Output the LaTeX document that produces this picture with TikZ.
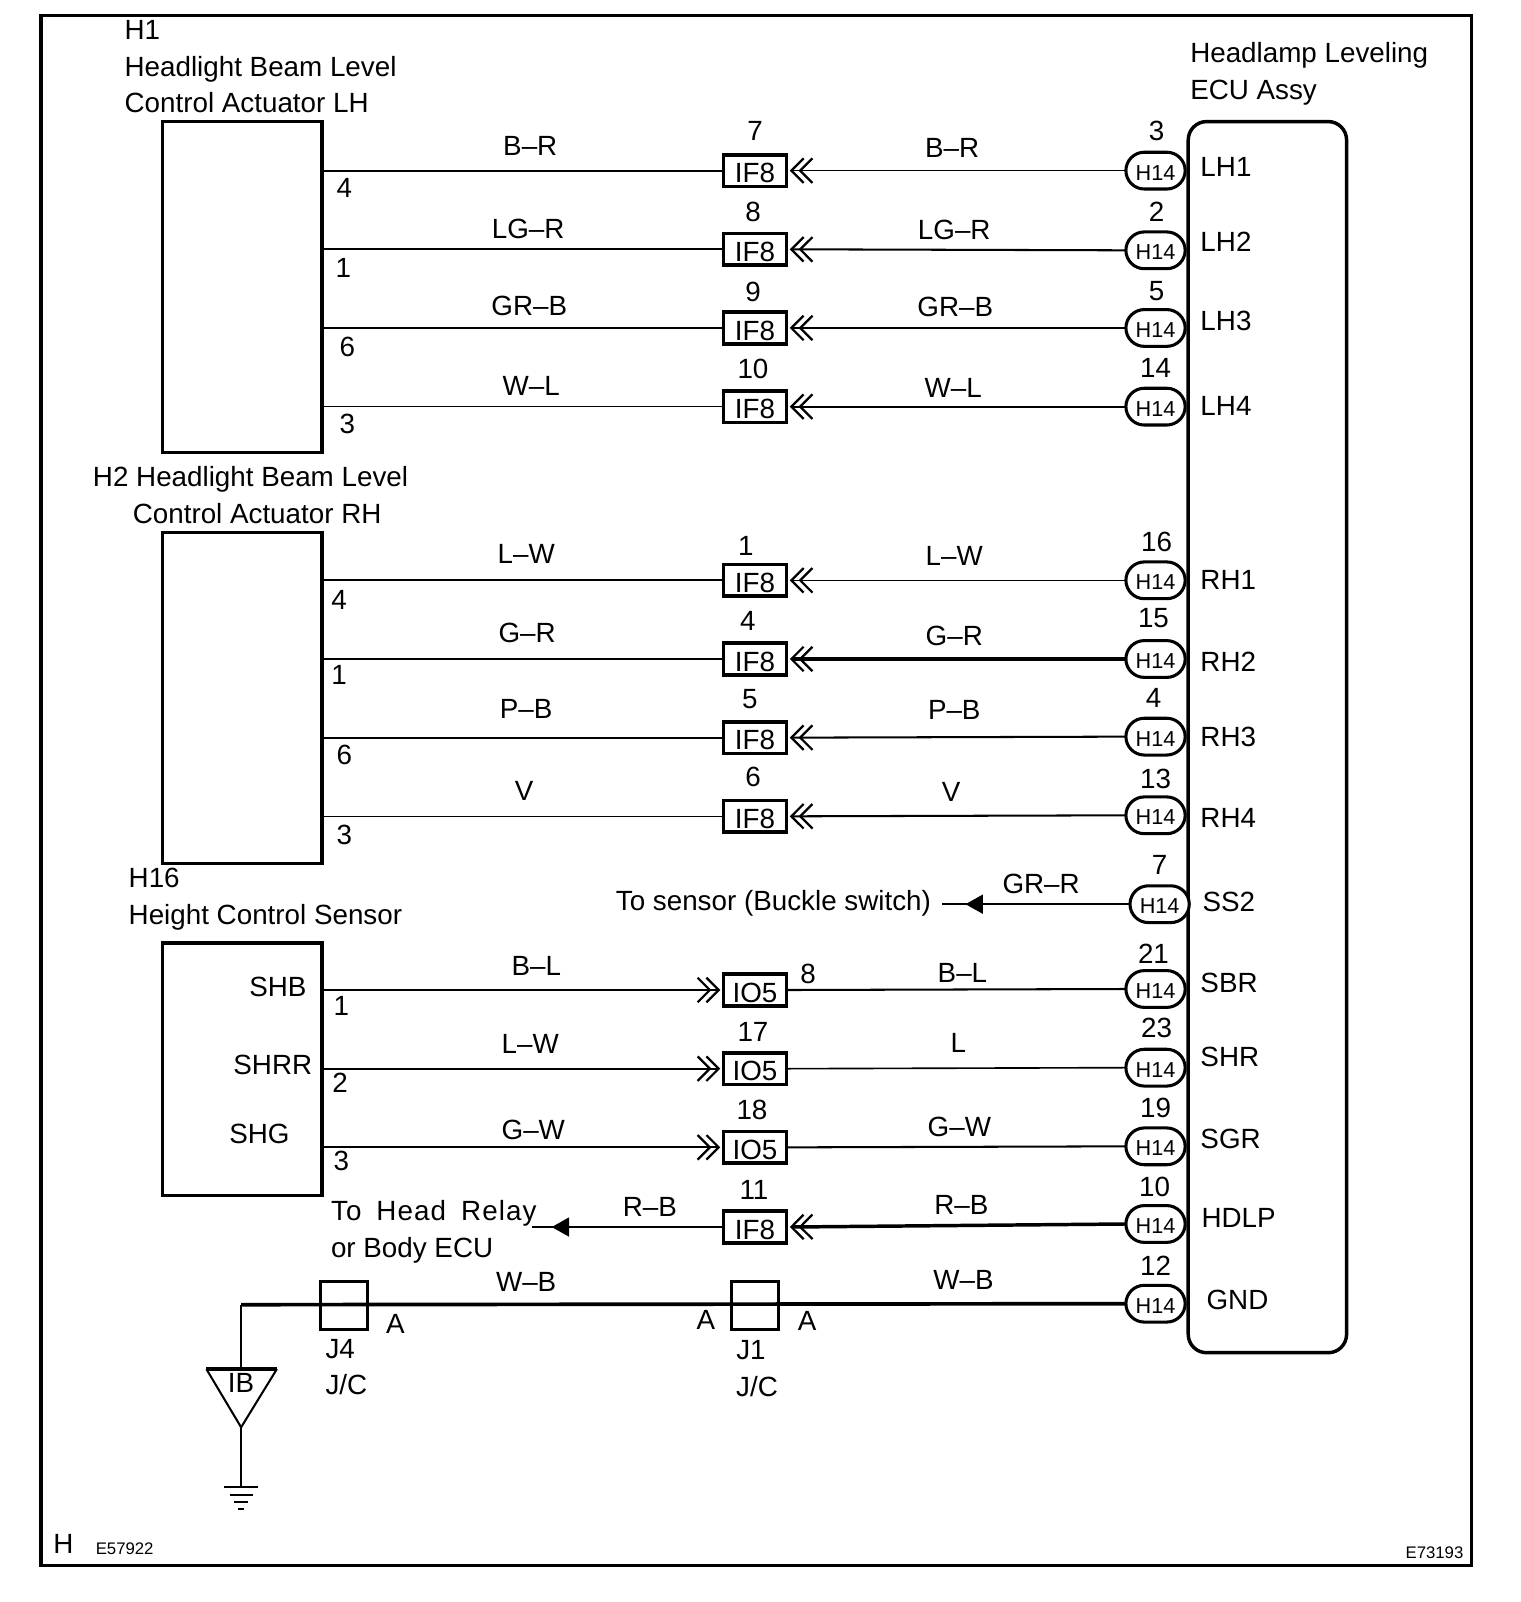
\documentclass[tikz,border=0pt]{standalone}
\usepackage{fontspec}
\setmainfont{Liberation Sans}
\usetikzlibrary{arrows.meta}
\tikzset{
  x=0.5pt,y=-0.5pt,
  txt/.style={inner sep=0pt,outer sep=0pt,font=\fontsize{13.6}{16}\selectfont,text height=0.72em,text depth=0pt,yshift=-1.1pt},
  txtl/.style={txt,anchor=west},
  tiny/.style={txt,font=\fontsize{8.2}{10}\selectfont},
  blk/.style={draw=black,line width=1.7pt,fill=white,minimum width=78pt,inner sep=0pt},
  conn/.style={draw=black,line width=1.7pt,fill=white,minimum width=31pt,minimum height=15.5pt,inner sep=0pt,outer sep=0pt,font=\fontsize{13.6}{16}\selectfont,text height=11.8pt,text depth=0pt},
  pill/.style={draw=black,line width=1.5pt,fill=white,rounded corners=9pt,minimum width=29pt,minimum height=18pt,inner sep=0pt,outer sep=0pt,font=\fontsize{10.6}{12}\selectfont,text height=9.2pt,text depth=0pt},
  jc/.style={draw=black,line width=1.4pt,minimum width=23pt,minimum height=23.5pt,inner sep=0pt,outer sep=0pt},
  thin wire/.style={line width=0.8pt},
  mid wire/.style={line width=1pt},
  thick wire/.style={line width=1.7pt},
  dbl/.style={-{Straight Barb[length=6pt,width=12pt,line width=1.1pt,sep=-3pt]Straight Barb[length=6pt,width=12pt,line width=1.1pt]},shorten >=1.5pt},
}
\newcommand{\T}[4]{\node[txt] (#1) at (#2,#3) {#4};}
\newcommand{\TL}[4]{\node[txtl] (#1) at (#2,#3) {#4};}
\begin{document}
\begin{tikzpicture}
\useasboundingbox (0,0) rectangle (1488,1568);
\draw[line width=1.7pt] (40,15) rectangle (1440,1532);

% headings
\TL{h1a}{122}{29}{H1}
\TL{h1b}{122}{65}{Headlight Beam Level}
\TL{h1c}{122}{101}{Control Actuator LH}
\TL{h2a}{91}{467}{H2 Headlight Beam Level}
\TL{h2b}{130}{503}{Control Actuator RH}
\TL{h3a}{126}{859}{H16}
\TL{h3b}{126}{895}{Height Control Sensor}
\TL{e1}{1165}{52}{Headlamp Leveling}
\TL{e2}{1165}{88}{ECU Assy}

% component bodies
\node[blk,minimum height=162pt] (actL) at (237,281) {};
\node[blk,minimum height=162pt] (actR) at (237,683) {};
\node[blk,minimum height=123.5pt] (sens) at (237,1046.5) {};
\node[draw=black,line width=1.7pt,rounded corners=9pt,minimum width=77.5pt,minimum height=602.5pt,inner sep=0pt,outer sep=0pt] (ecu) at (1240.5,721.5) {};

% in-line connectors and ECU connectors
\foreach \n/\y/\hy in {a/167/167,b/244/245,c/321/321,d/398/398,e/568/568,f/645/645,g/722/721,h/799/798,l/1201/1198}{
  \node[conn] (c\n) at (739,\y) {IF8};
  \node[pill] (p\n) at (1131,\hy) {H14};
}
\foreach \n/\y/\hy in {i/969/968,j/1046/1045,k/1123/1122}{
  \node[conn] (c\n) at (739,\y) {IO5};
  \node[pill] (p\n) at (1131,\hy) {H14};
}
\node[pill] (ps) at (1135,885) {H14};
\node[pill] (pm) at (1131,1276) {H14};

% wires: actuators
\foreach \n/\b/\lw/\rw in {a/actL/mid wire/thin wire,b/actL/mid wire/mid wire,c/actL/mid wire/mid wire,d/actL/thin wire/mid wire,e/actR/mid wire/thin wire,f/actR/mid wire/thick wire,g/actR/mid wire/mid wire,h/actR/thin wire/mid wire}{
  \draw[\lw] (\b.east |- c\n.west) -- (c\n.west);
  \draw[\rw,dbl] (p\n.west) -- (c\n.east);
}
% wires: sensor
\foreach \n/\lw/\rw in {i/thin wire/mid wire,j/mid wire/thin wire,k/mid wire/mid wire}{
  \draw[\lw,dbl] (sens.east |- c\n.west) -- (c\n.west);
  \draw[\rw] (c\n.east) -- (p\n.west);
}
% SS2 branch
\coordinate (ssend) at (922,885);
\draw[thin wire] (ps.west) -- (ssend);
\fill (945,885) -- (962,875.5) -- (962,894.5) -- cycle;
% HDLP branch
\coordinate (hdend) at (521,1201);
\draw[mid wire] (cl.west) -- (hdend);
\fill (540,1201) -- (557,1191.5) -- (557,1210.5) -- cycle;
\draw[thick wire,dbl] (pl.west) -- (cl.east);

% ground line
\node[jc] (j4) at (337,1277.5) {};
\node[jc] (j1) at (739,1277.5) {};
\coordinate (corner) at (236,1277);
\coordinate (gnd) at (236,1455);
\draw[line width=1.8pt] (pm.west) -- (corner);
\draw[thin wire] (corner) -- (236,1340);
\draw[line width=1.6pt] (202,1340) -- (271,1340);
\draw[mid wire] (202,1340) -- (236,1397) -- (271,1340);
\draw[thin wire] (236,1397) -- (gnd);
\draw[mid wire] (219,1455) -- (253,1455);
\draw[mid wire] (225,1463) -- (248,1463);
\draw[mid wire] (229,1470) -- (243,1470);
\draw[mid wire] (233,1477) -- (239,1477);
\T{ib}{236}{1354}{IB}

% numbers above in-line connectors
\T{n7}{739}{128}{7}\T{n8}{737}{207}{8}\T{n9}{737}{286}{9}\T{n10}{737}{361}{10}
\T{n1}{730}{534}{1}\T{n4}{732}{608}{4}\T{n5}{734}{684}{5}\T{n6}{737}{760}{6}
\T{n8b}{791}{953}{8}\T{n17}{737}{1010}{17}\T{n18}{736}{1086}{18}\T{n11}{738}{1165}{11}

% ECU pin numbers
\T{m3}{1132}{128}{3}\T{m2}{1132}{207}{2}\T{m5}{1132}{285}{5}\T{m14}{1131}{360}{14}
\T{m16}{1132}{530}{16}\T{m15}{1129}{605}{15}\T{m4}{1129}{683}{4}\T{m13}{1131}{762}{13}
\T{m7}{1135}{847}{7}\T{m21}{1129}{934}{21}\T{m23}{1132}{1006}{23}\T{m19}{1131}{1084}{19}
\T{m10}{1130}{1162}{10}\T{m12}{1131}{1239}{12}

% ECU terminals
\TL{t1}{1175}{163}{LH1}\TL{t2}{1175}{237}{LH2}\TL{t3}{1175}{314}{LH3}\TL{t4}{1175}{397}{LH4}
\TL{t5}{1175}{568}{RH1}\TL{t6}{1175}{648}{RH2}\TL{t7}{1175}{721}{RH3}\TL{t8}{1175}{801}{RH4}
\TL{t9}{1177}{883}{SS2}\TL{t10}{1175}{962}{SBR}\TL{t11}{1175}{1034}{SHR}\TL{t12}{1175}{1115}{SGR}
\TL{t13}{1176}{1192}{HDLP}\TL{t14}{1181}{1272}{GND}

% actuator pins
\T{q1}{337}{184}{4}\T{q2}{336}{262}{1}\T{q3}{340}{340}{6}\T{q4}{340}{415}{3}
\T{q5}{332}{587}{4}\T{q6}{332}{661}{1}\T{q7}{337}{739}{6}\T{q8}{337}{817}{3}
\T{q9}{334}{985}{1}\T{q10}{333}{1060}{2}\T{q11}{334}{1136}{3}

% sensor terminals
\T{s1}{272}{966}{SHB}\T{s2}{267}{1042}{SHRR}\T{s3}{254}{1110}{SHG}

% wire colours, left
\T{w1}{519}{143}{B–R}\T{w2}{517}{224}{LG–R}\T{w3}{518}{299}{GR–B}\T{w4}{520}{378}{W–L}
\T{w5}{515}{542}{L–W}\T{w6}{516}{619}{G–R}\T{w7}{515}{694}{P–B}\T{w8}{513}{774}{V}
\T{w9}{525}{945}{B–L}\T{w10}{519}{1022}{L–W}\T{w11}{522}{1106}{G–W}\T{w12}{636}{1181}{R–B}
\T{w13}{515}{1255}{W–B}
% wire colours, right
\T{x1}{932}{145}{B–R}\T{x2}{934}{225}{LG–R}\T{x3}{935}{300}{GR–B}\T{x4}{933}{380}{W–L}
\T{x5}{934}{544}{L–W}\T{x6}{934}{622}{G–R}\T{x7}{934}{695}{P–B}\T{x8}{931}{775}{V}
\T{x9}{1019}{865}{GR–R}\T{x10}{942}{952}{B–L}\T{x11}{938}{1021}{L}\T{x12}{939}{1103}{G–W}
\T{x13}{941}{1179}{R–B}\T{x14}{943}{1253}{W–B}

% branch texts
\T{ss}{757}{882}{To sensor (Buckle switch)}
\node[txtl,font=\fontsize{13.6}{16}\selectfont\addfontfeature{LetterSpace=4}] (hd1) at (324,1185) {To\hspace{3pt} Head\hspace{3pt} Relay};
\TL{hd2}{324}{1221}{or Body ECU}

% junction labels
\T{a1}{387}{1296}{A}\T{a2}{691}{1292}{A}\T{a3}{790}{1293}{A}
\T{j4t}{333}{1320}{J4}\T{j4c}{339}{1355}{J/C}
\T{j1t}{735}{1321}{J1}\T{j1c}{741}{1357}{J/C}

% footer
\T{fh}{62}{1511}{H}
\node[tiny] (f1) at (122,1512) {E57922};
\node[tiny] (f2) at (1404,1516) {E73193};
\end{tikzpicture}
\end{document}
